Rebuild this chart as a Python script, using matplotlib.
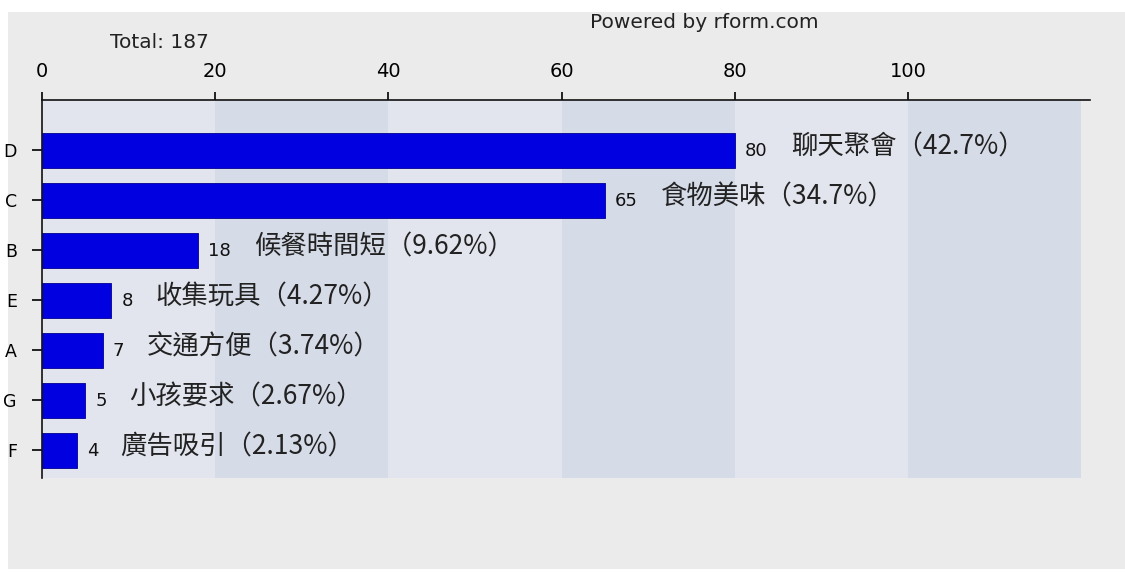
import matplotlib.pyplot as plt
from matplotlib.patches import Rectangle

plt.rcParams['font.family'] = ['DejaVu Sans', 'Noto Sans CJK TC']

# survey answers, largest first
codes = ['D', 'C', 'B', 'E', 'A', 'G', 'F']
counts = [80, 65, 18, 8, 7, 5, 4]
answers = ['聊天聚會', '食物美味', '候餐時間短', '收集玩具', '交通方便', '小孩要求', '廣告吸引']
percents = ['42.7%', '34.7%', '9.62%', '4.27%', '3.74%', '2.67%', '2.13%']
total = 187
x_ticks = [0, 20, 40, 60, 80, 100]

fig = plt.figure(figsize=(11.25, 5.73), dpi=100, facecolor='white')
# grey panel behind the chart
panel = Rectangle((8 / 1125, 4 / 573), 1 - 8 / 1125, 1 - 16 / 573,
                  transform=fig.transFigure, facecolor='#ebebeb',
                  edgecolor='none', zorder=-10)
fig.add_artist(panel)

ax = fig.add_axes([42 / 1125, 1 - 478 / 573, 1048 / 1125, 378 / 573])
ax.set_facecolor('none')
ax.set_zorder(1)

# alternating background bands every 20 units
band_colors = ['#e2e5ee', '#d6dbe8']
for i, start in enumerate(range(0, 120, 20)):
    ax.axvspan(start, start + 20, ymin=0, ymax=1, color=band_colors[i % 2], lw=0, zorder=0)

ypos = list(range(len(codes)))
ax.barh(ypos, counts, height=0.7, color='#0000e0', edgecolor='#000090', lw=0.6, zorder=2)

for y, v, name, pct in zip(ypos, counts, answers, percents):
    ax.annotate(str(v), xy=(v, y), xytext=(10, -1), textcoords='offset pixels',
                ha='left', va='center', fontsize=13, color='#111111')
    ax.annotate(f'{name}（{pct}）', xy=(v, y),
                xytext=(10 + 12 * len(str(v)) + 22, 3), textcoords='offset pixels',
                ha='left', va='center', fontsize=19, color='#222222',
                family=['Noto Sans CJK TC', 'DejaVu Sans'])

ax.set_xlim(0, 121)
ax.set_ylim(len(codes) - 0.44, -1)
ax.set_xticks(x_ticks)
ax.set_yticks(ypos)
ax.set_yticklabels(codes)
ax.xaxis.tick_top()
ax.tick_params(axis='x', direction='out', length=6, width=1.2, labelsize=14, pad=8)
ax.tick_params(axis='y', direction='out', length=7, width=1.3, color='#111111',
               labelsize=12.5, pad=11)
for side in ['right', 'bottom']:
    ax.spines[side].set_visible(False)
for side in ['top', 'left']:
    ax.spines[side].set_linewidth(1.2)
    ax.spines[side].set_color('#111111')

fig.text(110 / 1125, 1 - 42 / 573, f'Total: {total}', fontsize=14.5, color='#222222',
         va='center', ha='left')
fig.text(590 / 1125, 1 - 22 / 573, 'Powered by rform.com', fontsize=14.5,
         color='#222222', va='center', ha='left')

fig.savefig('out.png', dpi=100, facecolor='white')
